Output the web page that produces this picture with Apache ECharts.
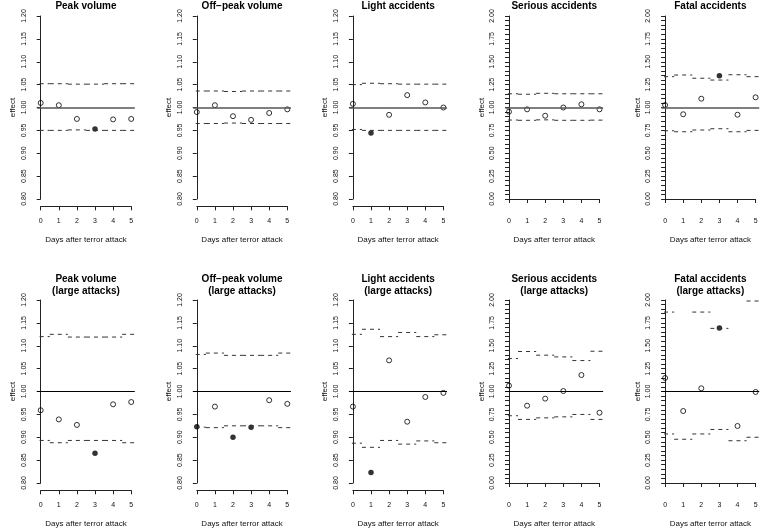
<!DOCTYPE html>
<html><head><meta charset="utf-8">
<script src="https://cdn.jsdelivr.net/npm/echarts@6/dist/echarts.min.js"></script>
<style>html,body{margin:0;padding:0;background:#fff}#c{width:762px;height:529px}</style>
</head><body><div id="c"></div>
<script>
// ---------------- data ----------------
const days = [0, 1, 2, 3, 4, 5];
const refLine = 1;
const xTitle = "Days after terror attack";
const yTitle = "effect";
const titles = [
  "Peak volume", "Off\u2212peak volume", "Light accidents", "Serious accidents", "Fatal accidents",
  "Peak volume\n(large attacks)", "Off\u2212peak volume\n(large attacks)", "Light accidents\n(large attacks)",
  "Serious accidents\n(large attacks)", "Fatal accidents\n(large attacks)"
];
// y-axis scales (tick labels)
const narrowTicks = [0.80, 0.85, 0.90, 0.95, 1.00, 1.05, 1.10, 1.15, 1.20];
const wideTicks = [0.00, 0.25, 0.50, 0.75, 1.00, 1.25, 1.50, 1.75, 2.00];

// all attacks
const peakEst = [1.010, 1.005, 0.975, 0.953, 0.974, 0.975];
const peakUp  = [1.052, 1.052, 1.051, 1.051, 1.052, 1.052];
const peakLo  = [0.950, 0.950, 0.951, 0.950, 0.950, 0.950];
const peakSig = [0, 0, 0, 1, 0, 0];

const offEst = [0.990, 1.005, 0.981, 0.973, 0.988, 0.996];
const offUp  = [1.036, 1.036, 1.035, 1.036, 1.036, 1.036];
const offLo  = [0.965, 0.965, 0.966, 0.965, 0.965, 0.965];
const offSig = [0, 0, 0, 0, 0, 0];

const lightEst = [1.008, 0.944, 0.984, 1.027, 1.011, 1.000];
const lightUp  = [1.050, 1.053, 1.052, 1.051, 1.051, 1.051];
const lightLo  = [0.952, 0.950, 0.950, 0.950, 0.950, 0.950];
const lightSig = [0, 1, 0, 0, 0, 0];

const seriousEst = [0.954, 0.980, 0.910, 1.000, 1.035, 0.980];
const seriousUp  = [1.150, 1.145, 1.155, 1.150, 1.150, 1.150];
const seriousLo  = [0.863, 0.860, 0.865, 0.860, 0.860, 0.862];
const seriousSig = [0, 0, 0, 0, 0, 0];

const fatalEst = [1.027, 0.926, 1.096, 1.348, 0.921, 1.111];
const fatalUp  = [1.337, 1.355, 1.320, 1.300, 1.358, 1.337];
const fatalLo  = [0.746, 0.735, 0.754, 0.768, 0.735, 0.750];
const fatalSig = [0, 0, 0, 1, 0, 0];

// large attacks
const peakLEst = [0.959, 0.939, 0.927, 0.865, 0.972, 0.977];
const peakLUp  = [1.120, 1.125, 1.119, 1.119, 1.119, 1.125];
const peakLLo  = [0.893, 0.888, 0.893, 0.893, 0.893, 0.888];
const peakLSig = [0, 0, 0, 1, 0, 0];

const offLEst = [0.923, 0.967, 0.900, 0.922, 0.981, 0.973];
const offLUp  = [1.081, 1.084, 1.079, 1.079, 1.079, 1.084];
const offLLo  = [0.922, 0.921, 0.925, 0.925, 0.925, 0.921];
const offLSig = [1, 0, 1, 1, 0, 0];

const lightLEst = [0.967, 0.823, 1.068, 0.934, 0.988, 0.997];
const lightLUp  = [1.125, 1.136, 1.120, 1.129, 1.120, 1.124];
const lightLLo  = [0.887, 0.878, 0.893, 0.885, 0.892, 0.888];
const lightLSig = [0, 1, 0, 0, 0, 0];

const seriousLEst = [1.064, 0.845, 0.922, 1.005, 1.180, 0.768];
const seriousLUp  = [1.360, 1.437, 1.397, 1.378, 1.338, 1.440];
const seriousLLo  = [0.735, 0.695, 0.712, 0.723, 0.749, 0.695];
const seriousLSig = [0, 0, 0, 0, 0, 0];

const fatalLEst = [1.148, 0.787, 1.035, 1.695, 0.623, 0.995];
const fatalLUp  = [1.868, 2.250, 1.868, 1.690, 2.300, 1.989];
const fatalLLo  = [0.536, 0.478, 0.536, 0.585, 0.462, 0.500];
const fatalLSig = [0, 0, 0, 1, 0, 0];

// ---------------- build ----------------
const panels = [
  [peakEst, peakUp, peakLo, peakSig, narrowTicks],
  [offEst, offUp, offLo, offSig, narrowTicks],
  [lightEst, lightUp, lightLo, lightSig, narrowTicks],
  [seriousEst, seriousUp, seriousLo, seriousSig, wideTicks],
  [fatalEst, fatalUp, fatalLo, fatalSig, wideTicks],
  [peakLEst, peakLUp, peakLLo, peakLSig, narrowTicks],
  [offLEst, offLUp, offLLo, offLSig, narrowTicks],
  [lightLEst, lightLUp, lightLLo, lightLSig, narrowTicks],
  [seriousLEst, seriousLUp, seriousLLo, seriousLSig, wideTicks],
  [fatalLEst, fatalLUp, fatalLLo, fatalLSig, wideTicks]
];

const UNIT = 18.1, COL0 = 40.7, COLSTEP = 156.1;
const ROWTOP = [16, 300], SPAN = 183;
const TITLETOP = [0, 273];
const REFSTYLE = [{ color: '#555', width: 1.6 }, { color: '#000', width: 1 }];
const FONT = "Liberation Sans, Arial, Helvetica, sans-serif";

const option = { animation: false, grid: [], xAxis: [], yAxis: [], series: [], title: [] };

function segs(vals) {
  const out = [];
  days.forEach((d, i) => { out.push([d - 0.5, vals[i]], [d + 0.5, vals[i]], [d + 0.5, '-']); });
  return out;
}

panels.forEach((pn, p) => {
  const [est, up, lo, sig, ticks] = pn;
  const r = Math.floor(p / 5), c = p % 5;
  const x0 = COL0 + COLSTEP * c, yTop = ROWTOP[r];
  const ymin = ticks[0], ymax = ticks[ticks.length - 1], yr = ymax - ymin;
  const wide = ticks === wideTicks;
  const ai = 2 * p, di = 2 * p + 1;

  option.title.push({
    text: titles[p], left: x0 + 2.5 * UNIT, top: TITLETOP[r], textAlign: 'center', padding: 0,
    textStyle: { fontFamily: FONT, fontSize: 10, fontWeight: 'bold', color: '#000', lineHeight: 12 }
  });

  option.grid.push({ left: x0, top: yTop, width: 5 * UNIT, height: SPAN, containLabel: false, outerBoundsMode: 'none' });
  option.grid.push({ left: x0 - 0.2 * UNIT, top: yTop - 0.04 * SPAN, width: 5.4 * UNIT, height: 1.08 * SPAN, containLabel: false, outerBoundsMode: 'none' });

  option.xAxis.push({
    type: 'value', gridIndex: ai, min: days[0], max: days[days.length - 1], interval: 1,
    position: 'bottom', offset: 0.04 * SPAN,
    axisLine: { show: true, lineStyle: { color: '#222', width: 1 } },
    axisTick: { show: true, length: 4, lineStyle: { color: '#222', width: 1 } },
    axisLabel: { margin: 11, fontSize: 7, fontFamily: FONT, color: '#111', formatter: v => String(v) },
    splitLine: { show: false },
    name: xTitle, nameLocation: 'middle', nameGap: 29,
    nameTextStyle: { fontSize: 8, fontFamily: FONT, color: '#111' }
  });
  option.xAxis.push({ type: 'value', gridIndex: di, min: -0.2, max: 5.2, show: false });

  option.yAxis.push({
    type: 'value', gridIndex: ai, min: ymin, max: ymax, interval: ticks[1] - ticks[0],
    position: 'left', offset: 0.2 * UNIT,
    axisLine: { show: true, lineStyle: { color: '#222', width: 1 } },
    axisTick: { show: true, length: 4, lineStyle: { color: '#222', width: 1 } },
    minorTick: { show: wide, splitNumber: 5, length: 4, lineStyle: { color: '#222', width: 1 } },
    axisLabel: { rotate: 90, margin: 10, fontSize: 7, fontFamily: FONT, color: '#111', formatter: v => v.toFixed(2) },
    splitLine: { show: false }, minorSplitLine: { show: false },
    name: yTitle, nameLocation: 'middle', nameRotate: 90, nameGap: 20,
    nameTextStyle: { fontSize: 8, fontFamily: FONT, color: '#111' }
  });
  option.yAxis.push({ type: 'value', gridIndex: di, min: ymin - 0.04 * yr, max: ymax + 0.04 * yr, show: false });

  const dash = { type: [4, 4], width: 1, color: '#333' };
  option.series.push({
    type: 'line', xAxisIndex: di, yAxisIndex: di, data: segs(up), showSymbol: false, connectNulls: false,
    lineStyle: dash, silent: true, clip: true,
    markLine: { silent: true, symbol: 'none', label: { show: false },
      lineStyle: Object.assign({ type: 'solid' }, REFSTYLE[r]), data: [{ yAxis: refLine }] }
  });
  option.series.push({
    type: 'line', xAxisIndex: di, yAxisIndex: di, data: segs(lo), showSymbol: false, connectNulls: false,
    lineStyle: dash, silent: true, clip: true
  });
  option.series.push({
    type: 'scatter', xAxisIndex: di, yAxisIndex: di, symbol: 'circle', symbolSize: 5, silent: true,
    data: days.filter((d, i) => !sig[i]).map(d => [d, est[d]]),
    itemStyle: { color: 'rgba(0,0,0,0)', borderColor: '#000', borderWidth: 1 }
  });
  option.series.push({
    type: 'scatter', xAxisIndex: di, yAxisIndex: di, symbol: 'circle', symbolSize: 5.5, silent: true,
    data: days.filter((d, i) => sig[i]).map(d => [d, est[d]]),
    itemStyle: { color: '#000' }
  });
});

const chart = echarts.init(document.getElementById('c'), null, { renderer: 'canvas' });
chart.setOption(option);
</script>
</body></html>
